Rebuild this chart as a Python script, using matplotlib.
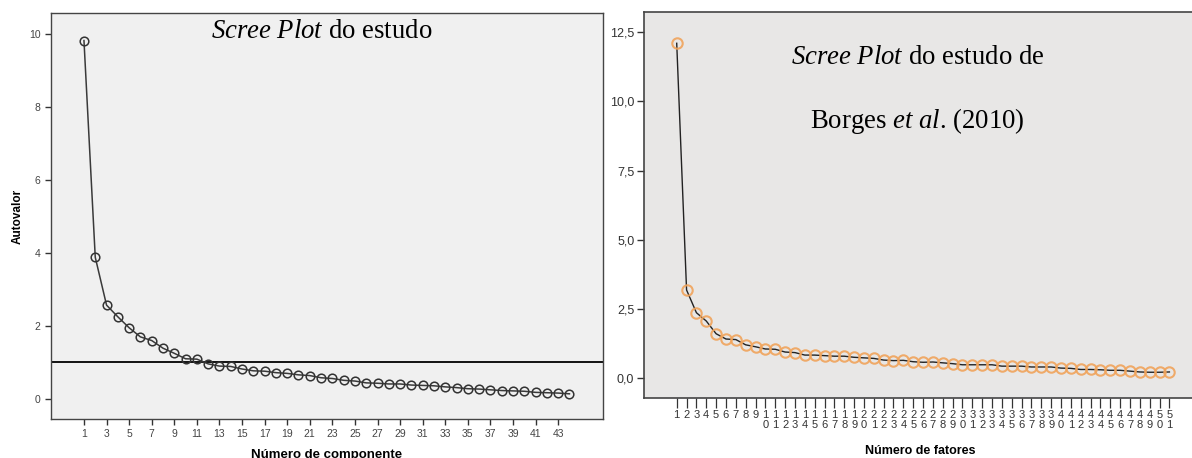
import matplotlib
matplotlib.use("Agg")
import matplotlib.pyplot as plt
import numpy as np

plt.rcParams["mathtext.fontset"] = "custom"
plt.rcParams["mathtext.rm"] = "Liberation Serif"
plt.rcParams["mathtext.it"] = "Liberation Serif:italic"

# ---- data: left panel (this study) ----
comp_n = list(range(1, 45))
eig_study = [9.82, 3.88, 2.57, 2.25, 1.95, 1.70, 1.60, 1.39, 1.25, 1.10,
             1.09, 0.96, 0.90, 0.89, 0.82, 0.77, 0.76, 0.72, 0.70, 0.66,
             0.64, 0.58, 0.56, 0.51, 0.49, 0.44, 0.43, 0.41, 0.41, 0.38,
             0.37, 0.36, 0.33, 0.31, 0.28, 0.27, 0.25, 0.23, 0.22, 0.21,
             0.18, 0.17, 0.16, 0.14]
left_yticks = [0, 2, 4, 6, 8, 10]
left_xticks = list(range(1, 44, 2))

# ---- data: right panel (Borges et al., 2010) ----
fat_n = list(range(1, 52))
eig_borges = [12.10, 3.19, 2.37, 2.07, 1.61, 1.42, 1.40, 1.21, 1.14, 1.06,
              1.05, 0.95, 0.93, 0.84, 0.84, 0.82, 0.80, 0.80, 0.76, 0.74,
              0.72, 0.66, 0.64, 0.65, 0.60, 0.58, 0.59, 0.56, 0.53, 0.49,
              0.49, 0.49, 0.49, 0.44, 0.44, 0.44, 0.41, 0.41, 0.41, 0.37,
              0.36, 0.32, 0.32, 0.31, 0.29, 0.29, 0.26, 0.23, 0.22, 0.22,
              0.23]
right_yticks = [0.0, 2.5, 5.0, 7.5, 10.0, 12.5]
right_ytick_labels = ["0,0", "2,5", "5,0", "7,5", "10,0", "12,5"]
right_xtick_labels = ["\n".join(str(n)) for n in fat_n]

W, H = 1192, 458
fig = plt.figure(figsize=(W / 100, H / 100), dpi=100)

sans = ["Liberation Sans", "DejaVu Sans"]
narrow = ["Liberation Sans Narrow", "Liberation Sans", "DejaVu Sans"]
serif = ["Liberation Serif", "DejaVu Serif"]

# ---------------- left panel ----------------
axL = fig.add_axes([51 / W, (H - 419) / H, (603 - 51) / W, (419 - 13) / H])
axL.set_facecolor("#f0f0f0")
axL.plot(comp_n, eig_study, color="#3a3a3a", lw=1.1, marker="o", ms=6.2,
         mfc="none", mec="#333333", mew=1.1, zorder=3)
axL.axhline(1.0, color="#111111", lw=1.4, zorder=2)
axL.set_xlim(-1.92, 46.97)
axL.set_ylim(-0.55, 10.575)
axL.set_yticks(left_yticks)
axL.set_xticks(left_xticks)
axL.tick_params(axis="both", direction="out", length=4, width=1,
                color="#333333", labelsize=7.5, labelcolor="#444444")
for lab in axL.get_xticklabels() + axL.get_yticklabels():
    lab.set_family(sans)
axL.set_ylabel("Autovalor", fontsize=8.5, fontweight="bold", family=sans,
               labelpad=4)
axL.set_xlabel("Número de componente", fontsize=9.5, fontweight="bold",
               family=sans, labelpad=7)
for sp in axL.spines.values():
    sp.set_color("#444444")
    sp.set_linewidth(1.0)
axL.text(0.491, (419 - 32) / 406, r"$\mathit{Scree\ Plot}$ do estudo",
         transform=axL.transAxes, ha="center", va="center", fontsize=19.3,
         family=serif)

# ---------------- right panel ----------------
axR = fig.add_axes([644 / W, (H - 398) / H, (W + 4 - 644) / W, (398 - 12) / H])
axR.set_facecolor("#e8e7e6")
axR.plot(fat_n, eig_borges, color="#222222", lw=1.0, zorder=2)
axR.plot(fat_n, eig_borges, ls="none", marker="o", ms=7.5, mfc="none",
         mec="#f0a45c", mew=1.5, alpha=0.9, zorder=3)
axR.set_xlim(-2.32, 53.7)
axR.set_ylim(-0.71, 13.23)
axR.set_yticks(right_yticks)
axR.set_yticklabels(right_ytick_labels)
axR.set_xticks(fat_n)
axR.set_xticklabels(right_xtick_labels, linespacing=0.95, va="top")
axR.tick_params(axis="y", direction="out", length=5, width=1,
                color="#333333", labelsize=9, labelcolor="#333333", pad=2)
axR.tick_params(axis="x", direction="out", length=7, width=0.9,
                color="#333333", labelsize=8, labelcolor="#333333", pad=2)
for lab in axR.get_xticklabels() + axR.get_yticklabels():
    lab.set_family(narrow)
axR.set_xlabel("Número de fatores", fontsize=9, fontweight="bold",
               family=narrow, labelpad=11)
for sp in axR.spines.values():
    sp.set_color("#444444")
    sp.set_linewidth(1.2)
axR.spines["right"].set_visible(False)
axR.text(0.496, (398 - 58) / 386, r"$\mathit{Scree\ Plot}$ do estudo de",
         transform=axR.transAxes, ha="center", va="center", fontsize=19.3,
         family=serif)
axR.text(0.495, (398 - 121) / 386, r"Borges $\mathit{et\ al}$. (2010)",
         transform=axR.transAxes, ha="center", va="center", fontsize=19.3,
         family=serif)

fig.savefig("out.png", dpi=100, facecolor="white")
